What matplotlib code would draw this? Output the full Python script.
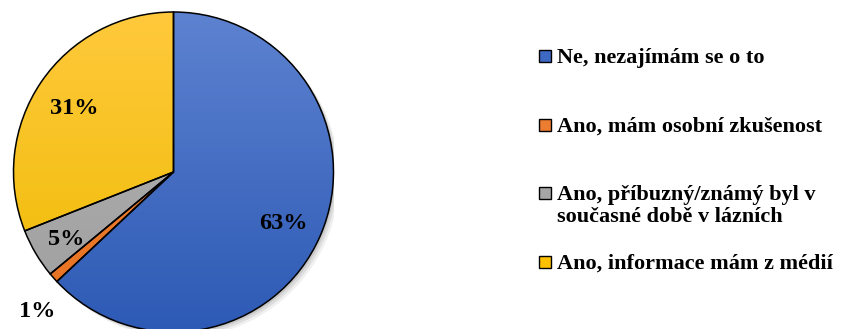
import numpy as np
import matplotlib
matplotlib.use('Agg')
from matplotlib import pyplot as plt
from matplotlib.colors import LinearSegmentedColormap
from matplotlib.patches import Rectangle, Circle

labels = ['Ne, nezajímám se o to',
          'Ano, mám osobní zkušenost',
          'Ano, příbuzný/známý byl v\nsoučasné době v lázních',
          'Ano, informace mám z médií']
values = [63, 1, 5, 31]
# (top, bottom) colours of the gradient fill of each slice
grad_colors = [('#5d82d0', '#2d5ab5'),
               ('#f08a40', '#e8701f'),
               ('#b4b4b4', '#9e9e9e'),
               ('#ffc93c', '#eebb00')]
marker_colors = ['#3d68c4', '#ed7d31', '#a5a5a5', '#ffc000']

plt.rcParams['font.family'] = ['Liberation Serif', 'DejaVu Serif']
plt.rcParams['font.weight'] = 'bold'

W, H = 856, 329
fig = plt.figure(figsize=(W / 100, H / 100), dpi=100)

# pie: centre (173.5, 172) px from top-left, radius 160 px
cx, cy, r = 173.5, 172, 160
ax = fig.add_axes([(cx - r) / W, (H - cy - r) / H, 2 * r / W, 2 * r / H])
ax.axis('off')

# soft shadow behind the pie
for k, a in enumerate([0.10, 0.08, 0.06]):
    off = 0.012 * (k + 1)
    ax.add_patch(Circle((off, -off), 1.0, facecolor='black', alpha=a,
                        edgecolor='none', zorder=0))

wedges, _ = ax.pie(values, startangle=90, counterclock=False, radius=1,
                   colors=['none'] * len(values),
                   wedgeprops=dict(edgecolor='black', linewidth=1.1))

grad = np.linspace(0, 1, 256).reshape(-1, 1)
for w, (top, bot) in zip(wedges, grad_colors):
    w.set_zorder(3)
    cmap = LinearSegmentedColormap.from_list('g', [bot, top])
    im = ax.imshow(grad, cmap=cmap, extent=(-1, 1, -1, 1), origin='lower',
                   aspect='auto', zorder=2)
    im.set_clip_path(w)

ax.set_xlim(-1, 1)
ax.set_ylim(-1, 1)
ax.set_aspect('auto')

# percentage labels (small slices get their label outside)
for w, v in zip(wedges, values):
    mid = (w.theta1 + w.theta2) / 2
    if v < 3:
        d, mid = 1.2, mid + 3.3
    elif v < 10:
        d = 0.78
    else:
        d = 0.75
    a = np.deg2rad(mid)
    ax.text(d * np.cos(a), d * np.sin(a) - 0.025, f'{v}%', ha='center',
            va='center', fontsize=17.5, fontweight='bold', color='black',
            zorder=5, clip_on=False)

# legend, drawn by hand so markers line up with the first text line
row_y = [56 + 68.7 * i for i in range(len(labels))]
for lab, col, y in zip(labels, marker_colors, row_y):
    fig.patches.append(Rectangle((538.5 / W, (H - y - 6) / H),
                                 12 / W, 12 / H, transform=fig.transFigure,
                                 facecolor=col, edgecolor='black',
                                 linewidth=1.0))
    for j, line in enumerate(lab.split('\n')):
        base = y + 6.5 + 22 * j
        fig.text(557 / W, (H - base) / H, line, ha='left', va='baseline',
                 fontsize=16, fontweight='bold', color='black')

fig.savefig('out.png', dpi=100)
